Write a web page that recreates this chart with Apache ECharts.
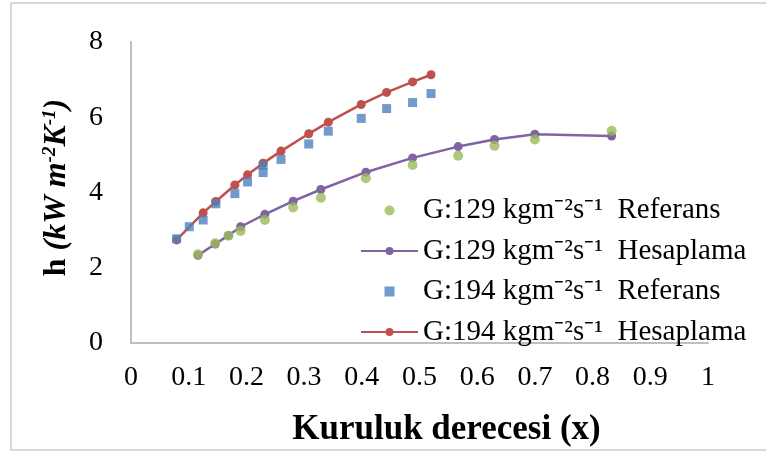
<!DOCTYPE html>
<html>
<head>
<meta charset="utf-8">
<script src="https://cdn.jsdelivr.net/npm/echarts@6/dist/echarts.min.js"></script>
<style>
  html, body { margin: 0; padding: 0; background: #fff; }
  #chart { width: 766px; height: 452px; }
</style>
</head>
<body>
<div id="chart"></div>
<script>
// Kuruluk derecesi (x) values and heat transfer coefficients h (kW m-2 K-1)
const g129RefX = [0.116, 0.146, 0.169, 0.190, 0.232, 0.281, 0.329, 0.407, 0.488, 0.567, 0.630, 0.700, 0.833];
const g129RefH = [2.36, 2.65, 2.85, 2.98, 3.27, 3.60, 3.86, 4.38, 4.73, 4.98, 5.24, 5.41, 5.64];

const g129CalcX = [0.116, 0.146, 0.169, 0.190, 0.232, 0.281, 0.329, 0.407, 0.488, 0.567, 0.630, 0.700, 0.833];
const g129CalcH = [2.33, 2.63, 2.86, 3.09, 3.42, 3.77, 4.08, 4.54, 4.92, 5.22, 5.41, 5.55, 5.50];

const g194RefX = [0.079, 0.101, 0.125, 0.147, 0.180, 0.202, 0.229, 0.229, 0.260, 0.308, 0.342, 0.399, 0.443, 0.488, 0.520];
const g194RefH = [2.77, 3.09, 3.27, 3.70, 3.97, 4.28, 4.72, 4.53, 4.88, 5.29, 5.63, 5.97, 6.23, 6.39, 6.63];

const g194CalcX = [0.079, 0.125, 0.147, 0.180, 0.202, 0.229, 0.260, 0.308, 0.342, 0.399, 0.443, 0.488, 0.520];
const g194CalcH = [2.74, 3.46, 3.76, 4.20, 4.47, 4.78, 5.10, 5.56, 5.87, 6.34, 6.66, 6.94, 7.13];

const seriesNames = [
  'G:129 kgm\u207B\u00B2s\u207B\u00B9  Referans',
  'G:129 kgm\u207B\u00B2s\u207B\u00B9  Hesaplama',
  'G:194 kgm\u207B\u00B2s\u207B\u00B9  Referans',
  'G:194 kgm\u207B\u00B2s\u207B\u00B9  Hesaplama'
];

const xTicks = { min: 0, max: 1, interval: 0.1 };
const yTicks = { min: 0, max: 8, interval: 2 };

const pairs = (xs, ys) => xs.map((x, i) => [x, ys[i]]);

const serif = '"Liberation Serif", "Times New Roman", serif';
const C_GREEN = '#9BBB59', C_PURPLE = '#8064A2', C_BLUE = '#4F81BD', C_RED = '#C0504D';

const chart = echarts.init(document.getElementById('chart'), null, { renderer: 'canvas' });

chart.setOption({
  backgroundColor: '#ffffff',
  animation: false,
  textStyle: { fontFamily: serif, color: '#000' },
  grid: { left: 131, right: 58, top: 42, bottom: 109, containLabel: false },
  graphic: [{
    type: 'rect',
    shape: { x: 11, y: 3, width: 790, height: 447 },
    style: { fill: 'none', stroke: '#d9d9d9', lineWidth: 2 },
    silent: true
  }],
  legend: {
    orient: 'vertical',
    left: 360,
    top: 196,
    itemWidth: 57,
    itemHeight: 10,
    itemGap: 11.5,
    padding: 0,
    symbolKeepAspect: true,
    textStyle: { fontFamily: serif, fontSize: 29, color: '#000' },
    data: [
      { name: seriesNames[0], icon: 'circle' },
      { name: seriesNames[1] },
      { name: seriesNames[2], icon: 'path://M0,0L10,0L10,10L0,10Z' },
      { name: seriesNames[3] }
    ]
  },
  xAxis: {
    type: 'value',
    min: xTicks.min, max: xTicks.max, interval: xTicks.interval,
    name: 'Kuruluk derecesi (x)',
    nameLocation: 'middle',
    nameGap: 69,
    nameTextStyle: { fontFamily: serif, fontWeight: 'bold', fontSize: 35, color: '#000', padding: [0, 0, 0, 54] },
    axisLine: { show: true, lineStyle: { color: '#bfbfbf', width: 2 } },
    axisTick: { show: false },
    splitLine: { show: false },
    axisLabel: { fontFamily: serif, fontSize: 28, color: '#000', margin: 21 }
  },
  yAxis: {
    type: 'value',
    min: yTicks.min, max: yTicks.max, interval: yTicks.interval,
    name: '{b|h }{bi|(kW m}{sup|-2}{bi|K}{sup|-1}{bi|)}',
    nameLocation: 'middle',
    nameGap: 58,
    nameTextStyle: {
      padding: [0, 0, 0, 10],
      rich: {
        b: { fontFamily: serif, fontWeight: 'bold', fontSize: 32, color: '#000' },
        bi: { fontFamily: serif, fontWeight: 'bold', fontStyle: 'italic', fontSize: 32, color: '#000' },
        sup: { fontFamily: serif, fontWeight: 'bold', fontStyle: 'italic', fontSize: 19, color: '#000', verticalAlign: 'top' }
      }
    },
    axisLine: { show: true, lineStyle: { color: '#bfbfbf', width: 2 } },
    axisTick: { show: false },
    splitLine: { show: false },
    axisLabel: { fontFamily: serif, fontSize: 28, color: '#000', margin: 28 }
  },
  series: [
    {
      name: seriesNames[3], type: 'line', z: 2,
      data: pairs(g194CalcX, g194CalcH),
      symbol: 'circle', symbolSize: 9,
      lineStyle: { color: C_RED, width: 2.5 },
      itemStyle: { color: C_RED }
    },
    {
      name: seriesNames[2], type: 'scatter', z: 3,
      data: pairs(g194RefX, g194RefH),
      symbol: 'rect', symbolSize: 9,
      itemStyle: { color: C_BLUE }
    },
    {
      name: seriesNames[1], type: 'line', z: 2,
      data: pairs(g129CalcX, g129CalcH),
      symbol: 'circle', symbolSize: 9,
      lineStyle: { color: C_PURPLE, width: 2.5 },
      itemStyle: { color: C_PURPLE }
    },
    {
      name: seriesNames[0], type: 'scatter', z: 3,
      data: pairs(g129RefX, g129RefH),
      symbol: 'circle', symbolSize: 10,
      itemStyle: { color: C_GREEN }
    }
  ]
});
</script>
</body>
</html>
